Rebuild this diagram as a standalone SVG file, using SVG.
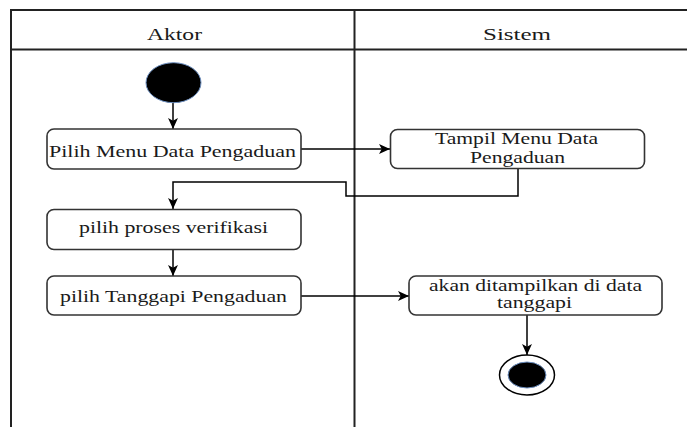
<svg xmlns="http://www.w3.org/2000/svg" width="687" height="427" viewBox="0 0 687 427" font-family="Liberation Serif, serif" font-size="17">
  <style>
    .lane { stroke: #222; stroke-width: 2; fill: none; }
    .node rect { fill: #fff; stroke: #333; stroke-width: 1.6; }
    .edge { stroke: #000; stroke-width: 1.5; fill: none; marker-end: url(#arrow); }
  </style>
  <defs>
    <marker id="arrow" viewBox="0 0 10 10" refX="10" refY="5" markerUnits="userSpaceOnUse" markerWidth="11" markerHeight="11" orient="auto">
      <path d="M0,0.5 L10,5 L0,9.5 L2.5,5 Z" fill="#000"/>
    </marker>
  </defs>
  <rect width="687" height="427" fill="#fff"/>

  <g id="swimlanes">
    <line class="lane" x1="10" y1="10" x2="687" y2="10"/>
    <line class="lane" x1="10" y1="49.5" x2="687" y2="49.5"/>
    <line class="lane" x1="11" y1="9" x2="11" y2="427"/>
    <line class="lane" x1="354.5" y1="9" x2="354.5" y2="427"/>
    <text font-family="Liberation Serif, serif" font-size="17" fill="#1a1a1a" x="147" y="40" textLength="55" lengthAdjust="spacingAndGlyphs">Aktor</text>
    <text font-family="Liberation Serif, serif" font-size="17" fill="#1a1a1a" x="483" y="40" textLength="68" lengthAdjust="spacingAndGlyphs">Sistem</text>
  </g>

  <g id="edges">
    <path class="edge" d="M173,103 V129"/>
    <path class="edge" d="M301,149 H390"/>
    <path class="edge" d="M518,169 V196 H346 V182 H173 V209"/>
    <path class="edge" d="M173,250 V276"/>
    <path class="edge" d="M301,296 H409"/>
    <path class="edge" d="M527,315 V355"/>
  </g>

  <g id="start">
    <ellipse cx="173.5" cy="82.7" rx="27.5" ry="20" fill="#000" stroke="#6c8ebf" stroke-width="1"/>
  </g>

  <g id="n1" class="node">
    <rect x="47" y="129" width="254" height="40" rx="7"/>
    <text font-family="Liberation Serif, serif" font-size="17" fill="#1a1a1a" x="49" y="156.5" textLength="247" lengthAdjust="spacingAndGlyphs">Pilih Menu Data Pengaduan</text>
  </g>

  <g id="n2" class="node">
    <rect x="390.5" y="129.5" width="254" height="39" rx="7"/>
    <text font-family="Liberation Serif, serif" font-size="17" fill="#1a1a1a" x="435" y="144" textLength="163" lengthAdjust="spacingAndGlyphs">Tampil Menu Data</text>
    <text font-family="Liberation Serif, serif" font-size="17" fill="#1a1a1a" x="470" y="163" textLength="95" lengthAdjust="spacingAndGlyphs">Pengaduan</text>
  </g>

  <g id="n3" class="node">
    <rect x="47" y="209.5" width="254" height="40" rx="7"/>
    <text font-family="Liberation Serif, serif" font-size="17" fill="#1a1a1a" x="79" y="233" textLength="189" lengthAdjust="spacingAndGlyphs">pilih proses verifikasi</text>
  </g>

  <g id="n4" class="node">
    <rect x="47" y="276" width="254" height="39" rx="7"/>
    <text font-family="Liberation Serif, serif" font-size="17" fill="#1a1a1a" x="60" y="301.5" textLength="227" lengthAdjust="spacingAndGlyphs">pilih Tanggapi Pengaduan</text>
  </g>

  <g id="n5" class="node">
    <rect x="409" y="276" width="253" height="39" rx="7"/>
    <text font-family="Liberation Serif, serif" font-size="17" fill="#1a1a1a" x="429" y="290.5" textLength="213" lengthAdjust="spacingAndGlyphs">akan ditampilkan di data</text>
    <text font-family="Liberation Serif, serif" font-size="17" fill="#1a1a1a" x="497" y="308" textLength="75" lengthAdjust="spacingAndGlyphs">tanggapi</text>
  </g>

  <g id="end">
    <ellipse cx="527" cy="375" rx="27.5" ry="20" fill="#fff" stroke="#000" stroke-width="1.5"/>
    <ellipse cx="527" cy="375" rx="19" ry="13" fill="#000" stroke="#6c8ebf" stroke-width="1"/>
  </g>
</svg>
